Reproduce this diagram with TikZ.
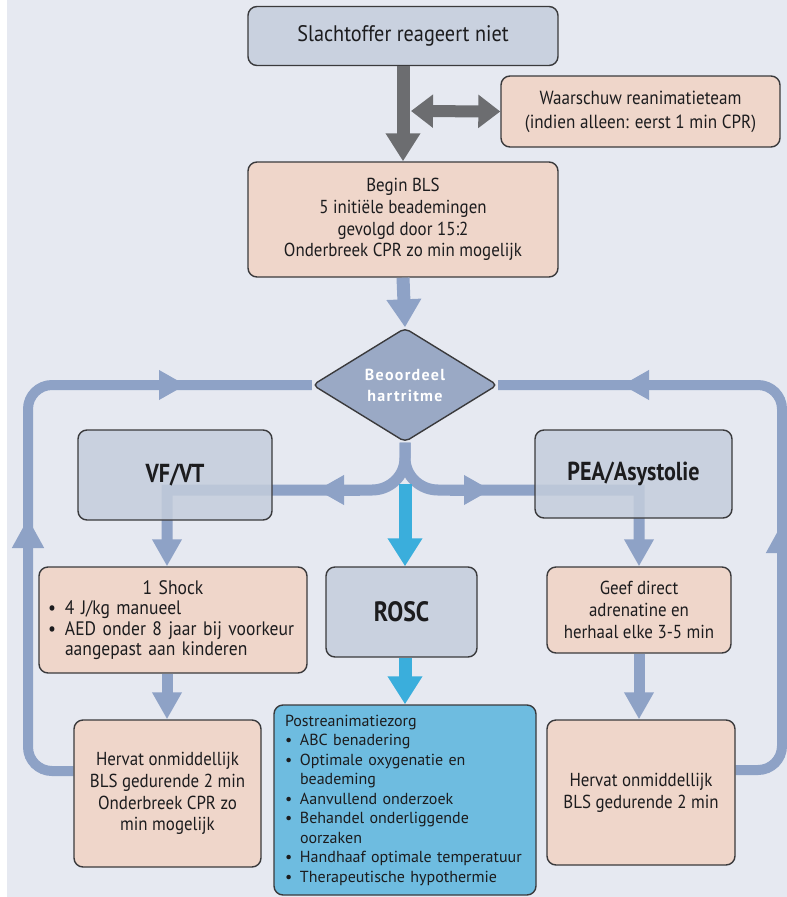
\documentclass[tikz,border=0pt]{standalone}
\usepackage{fontspec}
\setmainfont{PT Sans}[FakeStretch=0.9]
\newfontfamily\tkbf{PT Sans}[FakeStretch=0.85]
\newfontfamily\tkwide{PT Sans}[LetterSpace=8]
\newfontfamily\tkpost{PT Sans}
\usetikzlibrary{arrows.meta,shapes.geometric}
\definecolor{bgc}{HTML}{E6E9F1}
\definecolor{gbox}{HTML}{C4CDDC}
\definecolor{salm}{HTML}{F1D4C6}
\definecolor{cbox}{HTML}{6EBCE0}
\definecolor{loopc}{HTML}{8EA2C6}
\definecolor{cyanc}{HTML}{3AAEDC}
\definecolor{grayc}{HTML}{6C6D70}
\definecolor{diamc}{HTML}{9AA9C5}
\definecolor{bord}{HTML}{3A3A3C}
\definecolor{txt}{HTML}{1C1C1E}
\newcommand\tkfA{\fontsize{22.5}{26}\selectfont}
\newcommand\tkfB{\fontsize{19}{24}\selectfont}
\newcommand\tkfC{\fontsize{18.8}{21.8}\selectfont}
\newcommand\tkfS{\fontsize{19.5}{20.5}\selectfont}
\newcommand\tkfD{\fontsize{26}{30}\selectfont\tkbf\bfseries}
\newcommand\tkfR{\fontsize{28}{32}\selectfont\tkbf\bfseries}
\newcommand\tkfE{\fontsize{16}{19.5}\selectfont\tkpost\hyphenpenalty=10000\relax}
\newcommand\tkfF{\fontsize{16}{21}\selectfont\tkwide\bfseries}
\newcommand\tkbul[2]{\makebox[#1][l]{\textbullet}#2}
\pgfdeclarelayer{bgl}
\pgfdeclarelayer{lines}
\pgfsetlayers{bgl,lines,main}
\begin{document}
\begin{tikzpicture}[x=1pt,y=-1pt,
  box/.style={draw=bord, line width=1.4pt, rounded corners=9pt, inner sep=0pt, align=center, text=txt, text opacity=1},
  gboxs/.style={box, fill=gbox, fill opacity=0.85},
  sboxs/.style={box, fill=salm, fill opacity=0.9},
  cboxs/.style={box, fill=cbox},
  loopl/.style={draw=loopc, line width=10pt},
  vline/.style={draw=loopc, line width=11pt},
  headS/.style={-{Triangle[width=28pt,length=27pt]}},
  headB/.style={-{Triangle[width=33pt,length=28pt]}},
  grayarr/.style={draw=grayc, line width=13pt},
  cyanarr/.style={draw=cyanc, line width=13pt},
  bluearr/.style={draw=loopc, line width=13pt}]
\useasboundingbox (0,0) rectangle (787,897);
\clip (0,0) rectangle (787,897);
\begin{pgfonlayer}{bgl}
\fill[bgc] (0,0) rectangle (787,897);
\fill[white] (0,0) rectangle (7,897);
\end{pgfonlayer}

% nodes
\node[gboxs, minimum width=310pt, minimum height=59pt, font=\tkfA] (top) at (403,36) {Slachtoffer reageert niet};
\node[sboxs, minimum width=279pt, minimum height=71pt, font=\tkfB] (warn) at (640.5,111.5) {Waarschuw reanimatieteam\\(indien alleen: eerst 1 min CPR)};
\node[sboxs, minimum width=310pt, minimum height=115pt, font=\tkfC] (bls) at (403,219.5) {Begin BLS\\5 initiële beademingen\\gevolgd door 15:2\\Onderbreek CPR zo min mogelijk};
\node[shape=diamond, draw=bord, line width=1.4pt, rounded corners=5pt, fill=diamc, minimum width=185pt, minimum height=114pt, inner sep=0pt, align=center, text=white, font=\tkfF] (diam) at (405,385) {Beoordeel\\hartritme};
\node[gboxs, minimum width=194pt, minimum height=90pt, font=\tkfD] (vf) at (175,475) {VF/VT};
\node[gboxs, minimum width=197pt, minimum height=88pt, font=\tkfD] (pea) at (633.5,474) {PEA/Asystolie};
\node[sboxs, minimum width=268pt, minimum height=106pt, font=\tkfS, align=left, text width=250pt] (shock) at (173,620) {\centering 1 Shock\par\raggedright\tkbul{17pt}{4 J/kg manueel}\\\tkbul{17pt}{AED onder 8 jaar bij voorkeur}\\\hspace*{17pt}aangepast aan kinderen};
\node[gboxs, minimum width=151pt, minimum height=90pt, font=\tkfR] (rosc) at (401.5,612) {ROSC};
\node[sboxs, minimum width=184pt, minimum height=86pt, font=\tkfC] (geef) at (639,610) {Geef direct\\adrenatine en\\herhaal elke 3-5 min};
\node[sboxs, minimum width=187pt, minimum height=147pt, font=\tkfC] (herL) at (167.5,793.5) {Hervat onmiddellijk\\BLS gedurende 2 min\\Onderbreek CPR zo\\min mogelijk};
\node[cboxs, minimum width=262pt, minimum height=190pt, font=\tkfE, align=left, text width=240pt] (post) at (405,800) {Postreanimatiezorg\\\tkbul{15pt}{ABC benadering}\\\tkbul{15pt}{Optimale oxygenatie en}\\\hspace*{15pt}beademing\\\tkbul{15pt}{Aanvullend onderzoek}\\\tkbul{15pt}{Behandel onderliggende}\\\hspace*{15pt}oorzaken\\\tkbul{15pt}{Handhaaf optimale temperatuur}\\\tkbul{15pt}{Therapeutische hypothermie}};
\node[sboxs, minimum width=188pt, minimum height=145pt, font=\tkfC] (herR) at (641,792.5) {Hervat onmiddellijk\\BLS gedurende 2 min};

% connectors behind boxes
\begin{pgfonlayer}{lines}
\draw[loopl, rounded corners=24pt] ([yshift=22.5pt]herL.west) -- (28,771) -- (28,385) -- (diam.west);
\draw[loopl, rounded corners=24pt] ([yshift=22.5pt]herR.east) -- (782,770) -- (782,385) -- (diam.east);
\draw[loopl, -{Triangle[width=30pt,length=30pt]}] (28,565) -- (28,518);
\draw[loopl, -{Triangle[width=30pt,length=30pt]}] (782,570) -- (782,523);
\draw[loopl, headS] (150,385) -- (186,385);
\draw[loopl, headS] (660,385) -- (622,385);
% branches
\draw[vline, headS] (diam.south) -- (405,458) to[out=-90,in=0] (372,490) -- (167,490) -- (167,0 |- shock.north);
\draw[vline, headS] (diam.south) -- (405,458) to[out=-90,in=180] (438,490) -- (639,490) -- (639,0 |- geef.north);
\draw[vline, headS] (360,490) -- (317,490);
\draw[vline, headS] (450,490) -- (491,490);
\end{pgfonlayer}

% arrows
\draw[grayarr, headB] (top.south) -- (bls.north);
\draw[draw=grayc, line width=12pt, {Triangle[width=32pt,length=22pt]}-{Triangle[width=32pt,length=22pt]}] (411,111) -- (warn.west);
\draw[bluearr, headB] (bls.south) -- (diam.north);
\draw[cyanarr, headB] (405,484) -- (rosc.north -| 405,0);
\draw[cyanarr, headB] (rosc.south -| 405,0) -- (post.north);
\draw[vline, headS] (167,0 |- shock.south) -- (167,0 |- herL.north);
\draw[vline, headS] (639,0 |- geef.south) -- (639,0 |- herR.north);
\end{tikzpicture}
\end{document}
